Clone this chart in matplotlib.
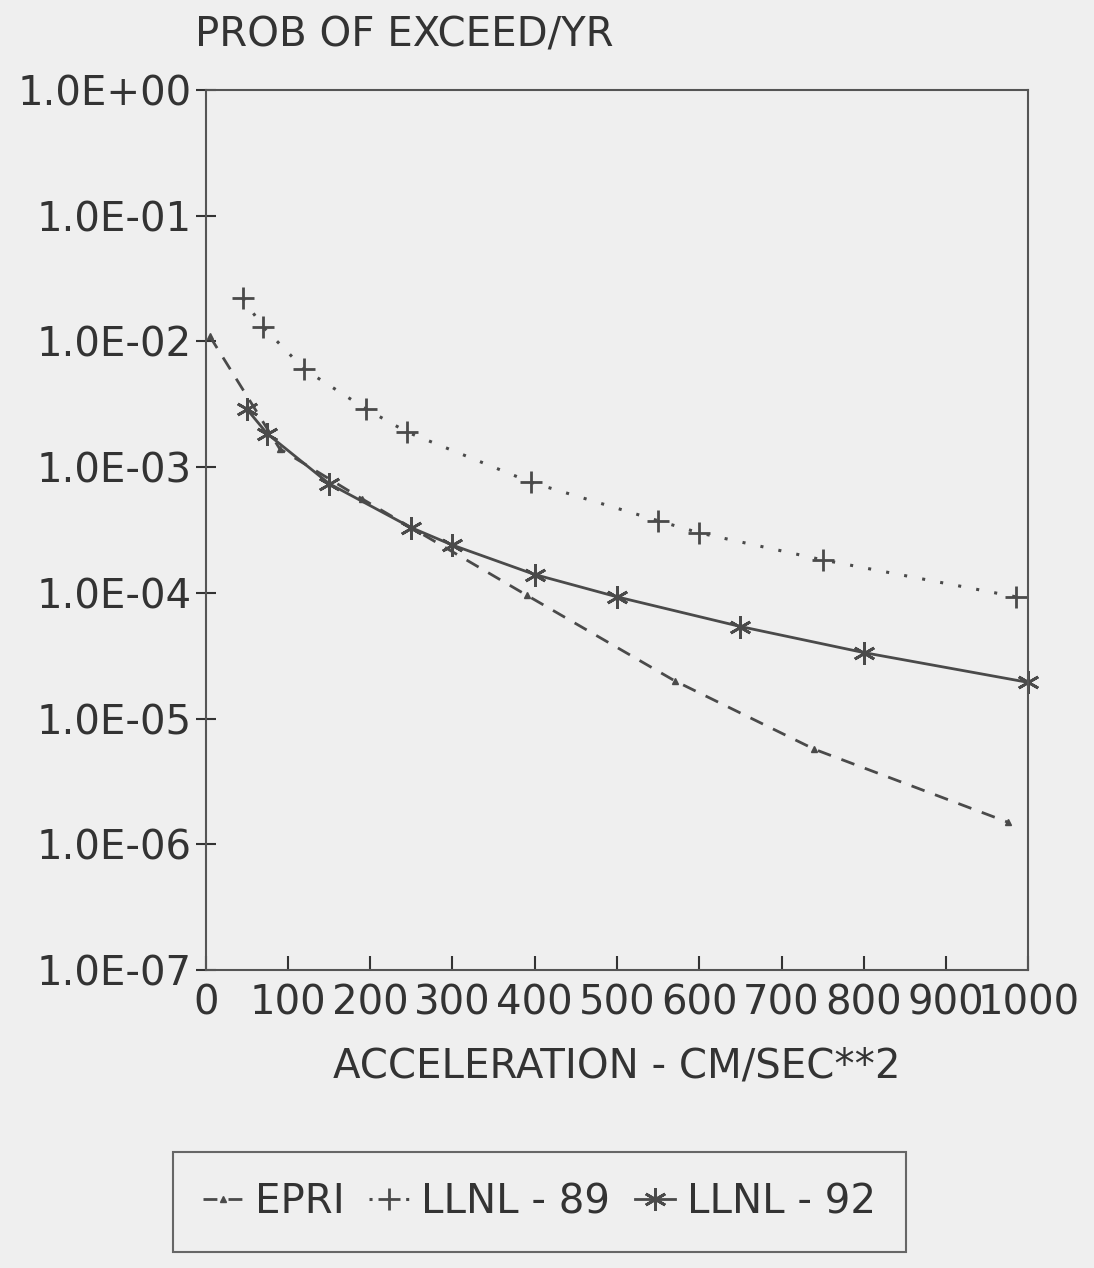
# hazard curves: probability of exceedance vs acceleration
import numpy as np
import matplotlib.pyplot as plt
from matplotlib.ticker import FixedLocator, FixedFormatter

# values
epri_x = [5, 90, 190, 390, 570, 740, 975]
epri_y = [1.1e-2, 1.4e-3, 5.6e-4, 9.6e-5, 2.0e-5, 5.7e-6, 1.5e-6]

llnl89_x = [45, 70, 120, 195, 245, 395, 550, 600, 750, 985]
llnl89_y = [2.2e-2, 1.3e-2, 6.0e-3, 2.9e-3, 1.9e-3, 7.6e-4, 3.75e-4, 3.0e-4, 1.83e-4, 9.3e-5]

llnl92_x = [50, 75, 150, 250, 300, 400, 500, 650, 800, 1000]
llnl92_y = [2.9e-3, 1.84e-3, 7.4e-4, 3.3e-4, 2.4e-4, 1.4e-4, 9.3e-5, 5.4e-5, 3.35e-5, 1.94e-5]

y_ticks = [1e0, 1e-1, 1e-2, 1e-3, 1e-4, 1e-5, 1e-6, 1e-7]
y_labels = ['1.0E+00', '1.0E-01', '1.0E-02', '1.0E-03', '1.0E-04', '1.0E-05', '1.0E-06', '1.0E-07']
x_ticks = [0, 100, 200, 300, 400, 500, 600, 700, 800, 900, 1000]

bg = '#efefef'
ink = '#333333'
line_c = '#4a4a4a'
fs = 29
plt.rcParams['font.family'] = ['DejaVu Sans']

fig = plt.figure(figsize=(10.94, 12.68), dpi=100, facecolor=bg)
ax = fig.add_axes([0.188, 0.235, 0.752, 0.694], facecolor=bg)

ax.plot(epri_x, epri_y, linestyle=(0, (5, 4)), color=line_c, lw=2,
        marker='^', ms=4, label='EPRI', clip_on=False)
ax.plot(llnl89_x, llnl89_y, linestyle=(0, (1, 5)), color=line_c, lw=2.2,
        marker='+', ms=16, mew=2, label='LLNL - 89', clip_on=False)
ax.plot(llnl92_x, llnl92_y, linestyle='-', color=line_c, lw=2,
        marker=(6, 2, 0), ms=16, mew=2, label='LLNL - 92', clip_on=False)

ax.set_yscale('log')
ax.set_ylim(1e-7, 1e0)
ax.set_xlim(0, 1000)
ax.yaxis.set_major_locator(FixedLocator(y_ticks))
ax.yaxis.set_major_formatter(FixedFormatter(y_labels))
ax.yaxis.set_minor_locator(FixedLocator([]))
ax.set_xticks(x_ticks)

ax.tick_params(axis='y', direction='inout', length=14, width=1.5, colors=ink,
               labelsize=fs, pad=3)
ax.tick_params(axis='x', direction='in', length=10, width=1.5, colors=ink,
               labelsize=fs, pad=10)
for s in ax.spines.values():
    s.set_color('#555555')
    s.set_linewidth(1.5)

ax.set_xlabel('ACCELERATION - CM/SEC**2', fontsize=fs, color=ink, labelpad=16)
fig.text(0.178, 0.972, 'PROB OF EXCEED/YR', fontsize=fs, color=ink,
         ha='left', va='center')

leg = fig.legend(loc='center', bbox_to_anchor=(0.493, 0.052), ncol=3,
                 fontsize=fs, frameon=True, fancybox=False, edgecolor='#444444',
                 facecolor=bg, handlelength=1.0, handletextpad=0.3,
                 columnspacing=0.6, borderpad=0.75)
leg.get_frame().set_linewidth(1.5)
for t in leg.get_texts():
    t.set_color(ink)

fig.savefig('out.png', dpi=100, facecolor=bg)
